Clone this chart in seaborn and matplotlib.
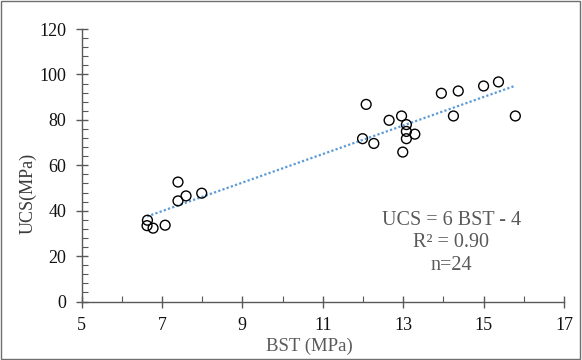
import numpy as np
import pandas as pd
import seaborn as sns
import matplotlib.pyplot as plt
from matplotlib.patches import Rectangle
from matplotlib.ticker import MultipleLocator

bst = [7.40, 7.40, 7.60, 7.99, 6.64, 6.63, 6.78, 7.08,
       12.08, 12.65, 12.96, 13.08, 13.08, 13.29, 13.08, 11.99,
       12.27, 12.99, 13.95, 14.37, 14.25, 15.00, 15.37, 15.79]
ucs = [52.6, 44.3, 46.5, 47.7, 35.8, 33.4, 32.3, 33.6,
       86.8, 79.8, 81.7, 77.9, 74.9, 73.7, 71.7, 71.7,
       69.6, 65.8, 91.7, 92.7, 81.7, 94.9, 96.7, 81.7]
x_ticks = [5, 7, 9, 11, 13, 15, 17]
y_ticks = [0, 20, 40, 60, 80, 100, 120]
eq_lines = ["UCS = 6 BST - 4", "R² = 0.90", "n=24"]

df = pd.DataFrame({"BST": bst, "UCS": ucs})

sns.set_style("ticks")
plt.rcParams["font.family"] = ["Liberation Serif", "DejaVu Serif"]

W, H = 582, 360
fig = plt.figure(figsize=(W / 100, H / 100), dpi=100)
ax = fig.add_axes([81.5 / W, 1 - 301.5 / H, (564 - 81.5) / W, (301.5 - 29) / H])

sns.scatterplot(data=df, x="BST", y="UCS", ax=ax, s=50, facecolor="none",
                edgecolor="black", linewidth=1.0, zorder=3)

# linear trendline
slope, icpt = np.polyfit(df["BST"], df["UCS"], 1)
xs = np.array([df["BST"].min(), df["BST"].max()])
ax.plot(xs, slope * xs + icpt, linestyle=(0, (1, 1)), color="#5B9BD5", lw=1.6, zorder=2)

ax.set_xlim(5, 17)
ax.set_ylim(0, 120)
ax.set_xticks(x_ticks)
ax.set_yticks(y_ticks)
ax.xaxis.set_minor_locator(MultipleLocator(1))
ax.yaxis.set_minor_locator(MultipleLocator(4))
ax.tick_params(which="major", direction="inout", length=8, width=1, color="#595959",
               labelsize=13, labelcolor="#111111", pad=7)
ax.tick_params(which="minor", direction="in", length=4, width=0.8, color="#595959")
for side in ["top", "right"]:
    ax.spines[side].set_visible(False)
for side in ["left", "bottom"]:
    ax.spines[side].set_color("#595959")
    ax.spines[side].set_linewidth(1)
ax.set_xlabel("")
ax.set_ylabel("")

fig.text(309 / W, 1 - 346.5 / H, "BST (MPa)", ha="center", va="center",
         fontsize=13.5, color="#595959")
fig.text(28 / W, 1 - 193 / H, "UCS(MPa)", ha="center", va="center", rotation=90,
         fontsize=13, color="#3a3a3a")

for line, yv in zip(eq_lines, [35.6, 25.9, 15.7]):
    ax.text(14.2, yv, line, ha="center", va="center", fontsize=14.5, color="#595959")

fig.patches.append(Rectangle((0.002, 0.003), 0.995, 0.994, transform=fig.transFigure,
                             fill=False, edgecolor="#6f6f6f", lw=1))

fig.savefig("out.png", dpi=100)
